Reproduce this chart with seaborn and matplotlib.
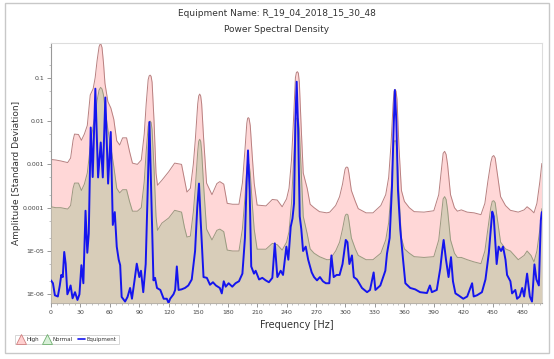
import matplotlib
matplotlib.use("Agg")
import matplotlib.pyplot as plt
from matplotlib.ticker import FixedLocator, FixedFormatter, MultipleLocator, LogLocator, NullFormatter
from matplotlib.lines import Line2D
from matplotlib.patches import Rectangle
import seaborn as sns
import pandas as pd

# donnees
env_freq = [0, 5, 10, 17, 20, 22.5, 24, 28, 31, 34, 37, 40, 43, 45, 47, 49, 50.5, 52, 53.5, 55, 58, 61,
            64, 67, 70, 73, 77, 80, 83, 88, 92, 95, 97, 99, 100, 101, 102, 103, 105, 107, 108.5, 113, 120, 126,
            133, 136, 138.5, 142, 145, 147, 149.5, 150.5, 151.5, 152.5, 153.5, 155.5, 158.5, 164, 169, 172, 176, 179.5, 185, 191.5, 195, 197.5,
            199.5, 200.3, 201, 201.8, 203, 205, 207, 210, 219, 225.5, 230.5, 235.5, 240, 242.5, 245, 247, 249, 250, 251, 252, 253, 255, 257, 261,
            264, 268, 273.5, 281, 284, 290, 294, 297, 299.5, 300.5, 301.5, 302.5, 303.5, 306, 310, 313, 321, 328, 336, 341, 344, 346.5,
            348.5, 349.5, 350.5, 351.5, 352.5, 354.5, 357, 360, 365, 370, 380, 390, 395, 398, 399.5, 401, 402.5, 404, 407, 411, 414, 418, 424, 431,
            438, 442, 445, 448, 449.5, 451, 452.5, 454, 458, 463, 468, 476, 482, 485, 489, 492, 495, 498, 500]

high = [1.3e-3, 1.26e-3, 1.2e-3, 1.1e-3, 1.4e-3, 3.6e-3, 5.0e-3, 4.9e-3, 3.6e-3, 5.0e-3, 7.9e-3, 0.040, 0.056, 0.10, 0.25, 0.52, 0.63, 0.50, 0.22, 0.074, 0.028, 0.020,
        0.011, 3.5e-3, 2.8e-3, 4.1e-3, 4.1e-3, 2.0e-3, 1.07e-3, 1.0e-3, 1.26e-3, 5.0e-3, 0.025, 0.09, 0.11, 0.115, 0.108, 0.079, 0.01, 6.3e-4, 3.3e-4, 4.3e-4, 6.8e-4, 1.07e-3,
        1.0e-3, 4.5e-4, 2.3e-4, 2.8e-4, 1.0e-3, 3.6e-3, 0.025, 0.038, 0.042, 0.038, 0.025, 4.0e-3, 3.7e-4, 2.0e-4, 3.6e-4, 4.0e-4, 3.5e-4, 1.26e-4, 1.2e-4, 1.2e-4, 3.7e-4, 2.0e-3,
        8.9e-3, 0.0115, 0.012, 0.0115, 7.9e-3, 1.6e-3, 3.7e-4, 1.15e-4, 1.1e-4, 1.55e-4, 1.5e-4, 1.05e-4, 1.6e-4, 2.8e-4, 1.26e-3, 0.01, 0.1, 0.132, 0.138, 0.128, 0.079, 6.3e-3, 6.3e-4, 2.8e-4,
        1.2e-4, 1.0e-4, 8.1e-5, 7.6e-5, 7.9e-5, 1.12e-4, 1.8e-4, 3.5e-4, 7.6e-4, 8.5e-4, 8.7e-4, 8.3e-4, 6.3e-4, 2.5e-4, 1.4e-4, 9.5e-5, 7.6e-5, 7.6e-5, 1.12e-4, 2.0e-4, 5.0e-4, 3.2e-3,
        0.025, 0.048, 0.054, 0.049, 0.032, 2.5e-3, 2.5e-4, 1.4e-4, 1.0e-4, 8.1e-5, 7.9e-5, 8.5e-5, 2.0e-4, 8.9e-4, 1.8e-3, 2.0e-3, 1.7e-3, 1.0e-3, 2.0e-4, 1.0e-4, 8.3e-5, 8.9e-5, 7.9e-5, 7.6e-5,
        6.9e-5, 1.26e-4, 4.0e-4, 1.1e-3, 1.5e-3, 1.6e-3, 1.4e-3, 7.9e-4, 1.8e-4, 1.12e-4, 8.7e-5, 7.9e-5, 8.9e-5, 1.05e-4, 8.9e-5, 7.6e-5, 1.26e-4, 4.0e-4, 1.05e-3]

normal = [1.05e-4, 1.0e-4, 1.0e-4, 9.3e-5, 1.12e-4, 2.8e-4, 3.7e-4, 3.7e-4, 2.5e-4, 3.5e-4, 6.3e-4, 2.5e-3, 7.9e-3, 0.014, 0.03, 0.052, 0.06, 0.055, 0.04, 0.02, 6.3e-3, 2.5e-3,
          8.9e-4, 2.8e-4, 2.2e-4, 2.6e-4, 2.6e-4, 1.4e-4, 8.3e-5, 8.3e-5, 1.0e-4, 4.0e-4, 2.0e-3, 7.5e-3, 9.5e-3, 0.01, 9.3e-3, 6.3e-3, 7.9e-4, 6.3e-5, 3.0e-5, 4.4e-5, 5.8e-5, 8.7e-5,
          7.9e-5, 3.5e-5, 2.1e-5, 2.2e-5, 7.9e-5, 2.8e-4, 2.0e-3, 3.4e-3, 3.8e-3, 3.4e-3, 2.0e-3, 3.2e-4, 3.2e-5, 1.8e-5, 3.0e-5, 3.2e-5, 2.8e-5, 1.05e-5, 1.0e-5, 1.0e-5, 3.2e-5, 1.6e-4,
          7.9e-4, 1.0e-3, 1.05e-3, 1.0e-3, 6.3e-4, 1.26e-4, 3.2e-5, 1.1e-5, 1.1e-5, 1.5e-5, 1.4e-5, 1.05e-5, 1.6e-5, 2.8e-5, 1.26e-4, 1.0e-3, 8.9e-3, 0.0115, 0.012, 0.011, 6.3e-3, 6.3e-4, 6.3e-5, 2.5e-5,
          1.12e-5, 8.9e-6, 7.4e-6, 6.3e-6, 6.3e-6, 1.0e-5, 1.6e-5, 3.2e-5, 6.3e-5, 7.0e-5, 7.1e-5, 6.8e-5, 5.0e-5, 2.0e-5, 1.12e-5, 7.9e-6, 6.3e-6, 6.3e-6, 8.9e-6, 1.8e-5, 4.5e-5, 2.5e-4,
          2.0e-3, 3.3e-3, 3.6e-3, 3.3e-3, 2.0e-3, 2.0e-4, 2.0e-5, 1.12e-5, 8.9e-6, 7.4e-6, 7.1e-6, 7.4e-6, 1.8e-5, 7.9e-5, 1.6e-4, 1.8e-4, 1.55e-4, 8.9e-5, 1.8e-5, 8.9e-6, 7.1e-6, 7.1e-6, 6.3e-6, 5.6e-6,
          5.1e-6, 1.0e-5, 3.2e-5, 1.0e-4, 1.4e-4, 1.45e-4, 1.3e-4, 7.1e-5, 1.6e-5, 1.12e-5, 1.0e-5, 6.3e-6, 7.9e-6, 1.0e-5, 7.9e-6, 5.6e-6, 1.0e-5, 3.2e-5, 9.5e-5]

eq_freq = [0, 2, 4, 7, 9, 10.5, 12, 13.5, 15, 16.7, 18.5, 20, 22, 24.5, 27, 29, 31, 33, 35.2, 37,
           38.5, 40.5, 42.5, 45.2, 48, 50.7, 52.8, 55.4, 58.2, 60.9, 63, 65, 67, 69, 70.5, 72, 75.5, 78, 80.6, 82.5,
           85, 87.4, 90, 91.7, 94, 96.5, 98.3, 100.3, 102.3, 104.4, 106, 108, 111.4, 114.8, 118, 119.8, 121.4, 124.8, 126.5, 128.2,
           130, 133, 136.5, 139.9, 143.4, 146.8, 149, 150.8, 152.5, 155.4, 158.8, 162, 165, 168, 172, 174, 176, 178, 181, 184.7,
           188, 191.5, 195, 197.6, 199.3, 200.7, 202.4, 204, 206.8, 208.5, 212, 215.3, 218.7, 222, 225.5, 228, 230.6, 234, 236.4, 239.8,
           241.8, 244.2, 246, 247.6, 249, 250.3, 251.8, 253.4, 255, 256.8, 259.5, 262, 265.6, 268, 271, 274, 277, 280, 283.5, 285.7,
           288, 291, 294, 297, 300.3, 302, 304, 306.6, 308.5, 311.7, 316.8, 322, 325, 328.7, 330.5, 335.5, 340.6, 342.3, 345, 347.4,
           349, 350.3, 351.8, 353.5, 355.8, 358.7, 361, 366, 371, 376, 383, 386, 388, 393, 396.6, 398.5, 400, 402.4, 405, 407.5,
           409.5, 412, 415, 420, 424, 429, 430.6, 434, 439, 442.6, 446, 449.5, 451, 454, 456, 458.5, 460.5, 463, 464.6, 468,
           469.7, 473, 474.8, 477.5, 480, 482, 485, 487.8, 490, 492.5, 494.5, 497, 499, 500]

equipment = [2.1e-6, 1.8e-6, 9.5e-7, 8.9e-7, 1.6e-6, 2.8e-6, 2.5e-6, 9.5e-6, 5.0e-6, 1.0e-6, 1.26e-6, 1.6e-6, 8.1e-7, 1.12e-6, 7.4e-7, 1.0e-6, 4.7e-6, 1.8e-6, 8.5e-5, 9.1e-6,
             2.5e-5, 7.1e-3, 5.1e-4, 0.056, 5.0e-4, 3.2e-3, 5.0e-4, 0.035, 3.6e-4, 5.6e-3, 4.0e-5, 7.9e-5, 1.26e-5, 6.3e-6, 4.7e-6, 8.7e-7, 6.8e-7, 8.7e-7, 1.4e-6, 7.9e-7,
             2.0e-6, 5.1e-6, 2.5e-6, 3.5e-6, 1.12e-6, 5.0e-6, 1.6e-4, 9.5e-3, 1.6e-4, 2.1e-6, 2.4e-6, 1.4e-6, 1.26e-6, 7.9e-7, 7.9e-7, 6.3e-7, 7.9e-7, 1.0e-6, 1.26e-6, 4.4e-6,
             1.26e-6, 1.3e-6, 1.4e-6, 1.6e-6, 2.2e-6, 1.0e-5, 1.0e-4, 3.6e-4, 5.0e-5, 2.5e-6, 2.4e-6, 1.66e-6, 1.9e-6, 1.6e-6, 1.4e-6, 1.05e-6, 2.0e-6, 1.5e-6, 1.8e-6, 1.5e-6,
             1.8e-6, 2.0e-6, 3.0e-6, 2.0e-5, 4.0e-4, 2.1e-3, 2.5e-4, 4.4e-6, 3.0e-6, 3.5e-6, 2.2e-6, 2.4e-6, 2.1e-6, 1.9e-6, 2.4e-6, 1.5e-5, 2.5e-6, 3.5e-6, 2.8e-6, 1.26e-5,
             6.3e-6, 3.6e-5, 5.6e-5, 1.26e-4, 0.01, 0.081, 6.3e-3, 6.3e-5, 3.2e-5, 1.0e-5, 1.26e-5, 6.3e-6, 3.2e-6, 2.5e-6, 2.1e-6, 2.5e-6, 2.0e-6, 1.8e-6, 1.8e-6, 7.9e-6,
             2.5e-6, 2.8e-6, 2.8e-6, 5.0e-6, 1.8e-5, 1.6e-5, 5.0e-6, 7.9e-6, 2.5e-6, 2.2e-6, 1.4e-6, 1.12e-6, 1.26e-6, 3.2e-6, 1.26e-6, 1.6e-6, 3.5e-6, 8.7e-6, 2.0e-5, 3.2e-4,
             6.3e-3, 0.052, 0.01, 2.5e-4, 3.2e-5, 6.2e-6, 1.8e-6, 1.4e-6, 1.3e-6, 1.12e-6, 1.07e-6, 1.6e-6, 1.12e-6, 1.26e-6, 4.0e-6, 1.0e-5, 1.8e-5, 6.3e-6, 2.5e-6, 7.2e-6,
             2.0e-6, 1.05e-6, 9.5e-7, 7.9e-7, 8.9e-7, 1.8e-6, 8.9e-7, 9.5e-7, 1.12e-6, 2.2e-6, 8.9e-6, 8.1e-5, 6.3e-5, 5.0e-6, 1.26e-5, 1.0e-5, 1.26e-5, 6.3e-6, 2.8e-6, 2.0e-6,
             1.05e-6, 1.26e-6, 7.9e-7, 8.9e-7, 1.4e-6, 8.9e-7, 3.0e-6, 8.9e-7, 6.8e-7, 4.9e-6, 2.2e-6, 1.6e-6, 5.1e-5, 7.9e-5]

x_ticks = [0, 30, 60, 90, 120, 150, 180, 210, 240, 270, 300, 330, 360, 390, 420, 450, 480]
y_ticks = [1e-6, 1e-5, 1e-4, 1e-3, 1e-2, 1e-1]
y_tick_labels = ["1E-06", "1E-05", "0.0001", "0.001", "0.01", "0.1"]

sns.set_style("white")
plt.rcParams['font.family'] = ['DejaVu Sans']

env = pd.DataFrame({"freq": env_freq, "High": high, "Normal": normal})
eq = pd.DataFrame({"freq": eq_freq, "Equipment": equipment})

fig = plt.figure(figsize=(5.54, 3.59), dpi=100)
ax = fig.add_axes([0.092, 0.156, 0.886, 0.723])

ymin, ymax = 6.3e-7, 0.62

# enveloppe haute
ax.fill_between(env["freq"], ymin, env["High"], color="#ffd7d7", lw=0, zorder=1)
sns.lineplot(data=env, x="freq", y="High", ax=ax, color="#b88080", lw=0.7, zorder=2)
# enveloppe normale
ax.fill_between(env["freq"], ymin, env["Normal"], color="#d8cdb9", lw=0, zorder=3)
sns.lineplot(data=env, x="freq", y="Normal", ax=ax, color="#9a9a80", lw=0.7, zorder=4)
# equipement
sns.lineplot(data=eq, x="freq", y="Equipment", ax=ax, color="#1515ee", lw=1.4, zorder=5)

ax.set_yscale("log")
ax.set_xlim(0, 500)
ax.set_ylim(ymin, ymax)

ax.xaxis.set_major_locator(FixedLocator(x_ticks))
ax.xaxis.set_minor_locator(MultipleLocator(6))
ax.yaxis.set_major_locator(FixedLocator(y_ticks))
ax.yaxis.set_major_formatter(FixedFormatter(y_tick_labels))
ax.yaxis.set_minor_locator(LogLocator(base=10, subs=[2, 5]))
ax.yaxis.set_minor_formatter(NullFormatter())

ax.tick_params(axis="both", which="major", direction="out", length=3, width=0.6,
               color="#888888", labelsize=4.5, labelcolor="#444444", pad=2)
ax.tick_params(axis="both", which="minor", direction="out", length=1.5, width=0.5, color="#aaaaaa")
ax.tick_params(left=True, bottom=True, which="both")

for s in ["top", "right"]:
    ax.spines[s].set_color("#dddddd")
    ax.spines[s].set_linewidth(0.8)
for s in ["left", "bottom"]:
    ax.spines[s].set_color("#999999")
    ax.spines[s].set_linewidth(0.8)

ax.set_xlabel("Frequency [Hz]", fontsize=7, color="#333333", labelpad=4)
ax.set_ylabel("Amplitude [Standard Deviation]", fontsize=6.5, color="#333333", labelpad=1.5)

fig.text(0.5, 1 - 14 / 359, "Equipment Name: R_19_04_2018_15_30_48", ha="center", va="center",
         fontsize=6.5, color="#333333")
fig.text(0.5, 1 - 29 / 359, "Power Spectral Density", ha="center", va="center",
         fontsize=6.5, color="#333333")

# cadre exterieur
fig.patches.append(Rectangle((5 / 554, 1 - 353 / 359), 544 / 554, 350 / 359, transform=fig.transFigure,
                             fill=False, edgecolor="#c8c8c8", lw=1))

handles = [Line2D([], [], marker="^", markersize=7, markerfacecolor="#ffd0d0", markeredgecolor="#d08080",
                  markeredgewidth=0.6, linestyle="none"),
           Line2D([], [], marker="^", markersize=7, markerfacecolor="#d8f0d8", markeredgecolor="#70b070",
                  markeredgewidth=0.6, linestyle="none"),
           Line2D([], [], color="#1515ee", lw=1.2)]
leg = fig.legend(handles, ["High", "Normal", "Equipment"], loc="lower left",
                 bbox_to_anchor=(12 / 554, 1 - 347 / 359), ncol=3, fontsize=4, frameon=True,
                 fancybox=False, handlelength=1.4, handletextpad=0.3, columnspacing=0.8,
                 borderpad=0.4, labelcolor="#333333")
leg.get_frame().set_edgecolor("#cccccc")
leg.get_frame().set_linewidth(0.7)

fig.savefig("out.png", dpi=100)
